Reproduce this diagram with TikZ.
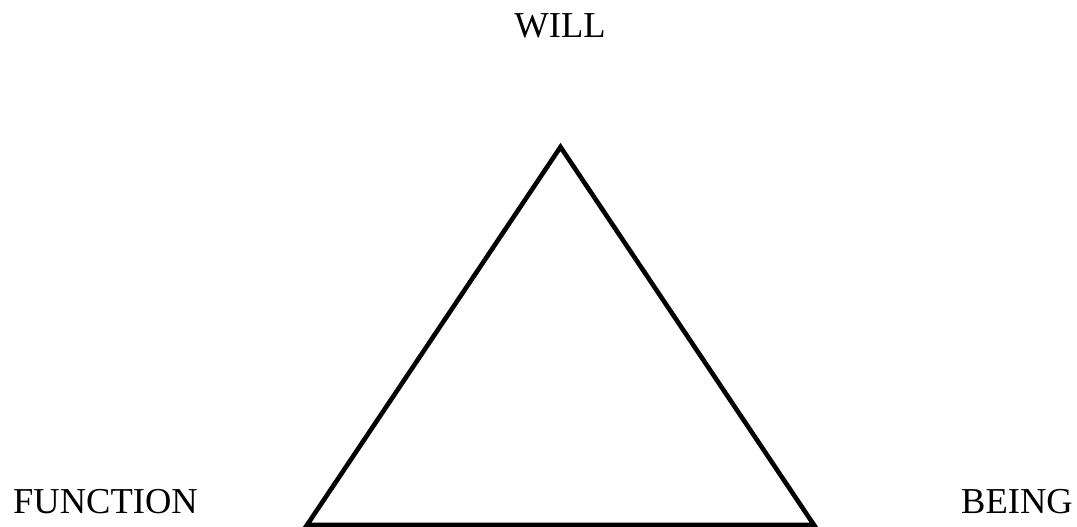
\documentclass[tikz,border=0pt]{standalone}
\usepackage{fontspec}
\setmainfont{Liberation Serif}
\begin{document}
\begin{tikzpicture}[x=1pt,y=-1pt,
  lbl/.style={inner sep=0pt,font=\fontsize{36.5}{40}\selectfont},
  tri/.style={draw=black,line width=4.6pt,line join=miter}]
\useasboundingbox (0,0) rectangle (1077,527);
\node[lbl,anchor=base] (will) at (560,38) {WILL};
\node[lbl,anchor=base west] (function) at (13,513) {FUNCTION};
\node[lbl,anchor=base west] (being) at (961,513) {BEING};
\coordinate (top) at (560.5,147);
\coordinate (bl) at (307,525);
\coordinate (br) at (814,525);
\draw[tri] (top) -- (bl) -- (br) -- cycle;
\end{tikzpicture}
\end{document}
